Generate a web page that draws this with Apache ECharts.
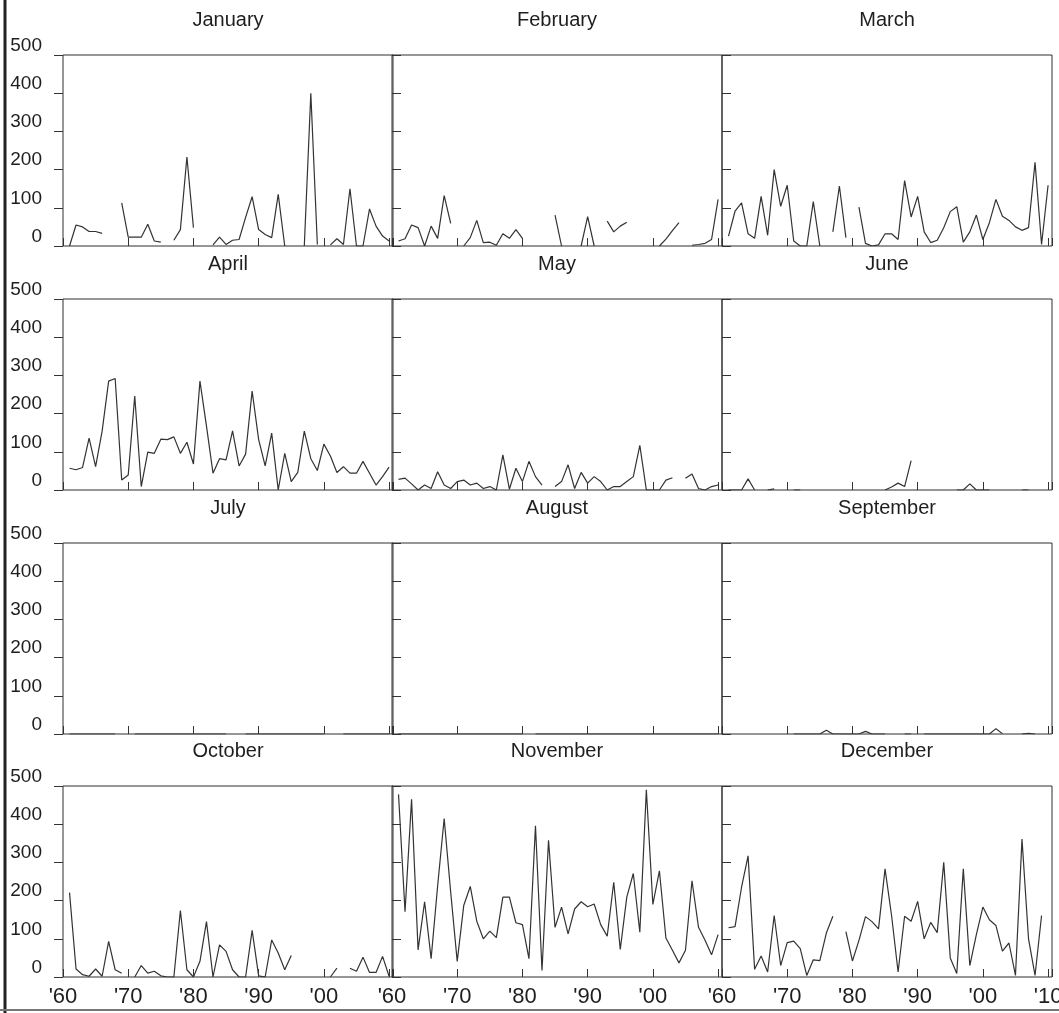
<!DOCTYPE html>
<html>
<head>
<meta charset="utf-8">
<title>Monthly totals 1961-2010</title>
<script src="https://cdn.jsdelivr.net/npm/echarts@6/dist/echarts.min.js"></script>
<style>
  html, body { margin: 0; padding: 0; background: #fff; }
  #chart { width: 1059px; height: 1013px; }
</style>
</head>
<body>
<div id="chart"></div>
<script>
var years = []
for (var y = 1961; y <= 2010; y++) years.push(y)

var months = ['January', 'February', 'March', 'April', 'May', 'June',
	'July', 'August', 'September', 'October', 'November', 'December']

// one value per year 1961..2010, null = no data (gap in the line)
var jan = [0, 55, 50, 38, 38, 33, null, null, 113, 23,
	23, 23, 57, 13, 10, null, 15, 43, 233, 48,
	null, null, 3, 23, 4, 15, 17, 75, 129, 43,
	30, 22, 135, 0, null, null, 0, 400, 4, null,
	3, 19, 4, 150, 0, 0, 97, 52, 26, 13]
var feb = [13, 19, 55, 48, 0, 52, 20, 132, 59, null,
	0, 22, 67, 9, 10, 2, 32, 20, 43, 20,
	null, null, null, null, 81, 0, null, null, 0, 77,
	0, null, 65, 37, 52, 62, null, null, null, null,
	0, 18, 40, 61, null, 2, 4, 7, 17, 122]
var mar = [26, 91, 113, 32, 20, 130, 28, 200, 104, 159,
	13, 0, 0, 116, 0, null, 37, 157, 22, null,
	102, 7, 0, 3, 32, 32, 17, 171, 76, 130,
	37, 9, 15, 48, 90, 103, 10, 37, 81, 17,
	61, 122, 78, 67, 50, 41, 48, 219, 4, 159]
var apr = [57, 53, 59, 136, 61, 154, 285, 292, 26, 39,
	246, 9, 99, 96, 133, 132, 139, 96, 125, 68,
	285, 167, 44, 82, 79, 155, 63, 94, 259, 132,
	63, 149, 0, 96, 22, 46, 154, 82, 51, 120,
	89, 46, 61, 44, 44, 75, 44, 13, 35, 60]
var may = [28, 31, 16, 0, 13, 4, 48, 13, 4, 22,
	26, 13, 18, 4, 9, 0, 92, 2, 57, 22,
	75, 35, 13, null, 9, 22, 66, 4, 46, 18,
	35, 22, 0, 9, 9, 22, 35, 117, 0, 0,
	0, 26, 32, null, 31, 42, 4, 0, 9, 13]
var jun = [0, 0, 0, 29, 0, null, 0, 3, null, null,
	0, 0, null, null, null, null, null, null, null, null,
	null, null, null, null, 0, 8, 18, 9, 77, null,
	null, null, null, null, null, 0, 0, 16, 0, 0,
	0, null, null, null, null, 0, 0, null, null, null]
var jul = [0, 0, 0, 0, 0, 0, 0, 0, null, null,
	0, 0, 0, 0, 0, 0, 0, 0, 0, 0,
	0, 0, 0, 0, 0, null, null, 0, 0, 0,
	0, 0, 0, 0, 0, 0, 0, 0, 0, 0,
	null, null, 0, 0, 0, 0, 0, 0, 0, 0]
var aug = [0, 0, 0, 0, 0, 0, 0, 0, 0, 0,
	0, 0, 0, 0, 0, 0, 0, 0, 0, 0,
	null, 0, 0, 0, 0, 0, 0, 0, 0, 0,
	0, 0, 0, 0, 0, 0, 0, 0, 0, 0,
	0, 0, 0, 0, 0, 0, 0, 0, 0, 0]
var sep = [null, null, null, null, null, null, null, null, null, null,
	0, 0, 0, 0, 0, 10, 0, 0, 0, 0,
	0, 7, 0, 0, 0, null, null, 0, 0, null,
	0, 0, 0, 0, 0, 0, 0, 0, 0, 0,
	0, 14, 1, null, null, 0, 2, 0, null, null]
var oct = [221, 21, 6, 2, 21, 2, 93, 19, 10, null,
	0, 30, 10, 15, 3, 0, 0, 174, 19, 0,
	41, 145, 0, 84, 67, 19, 0, 0, 122, 3,
	0, 97, 63, 19, 56, null, null, null, null, null,
	0, 23, null, 23, 15, 52, 12, 12, 54, 2]
var nov = [478, 171, 465, 71, 197, 48, 239, 415, 222, 41,
	187, 237, 146, 100, 120, 103, 209, 209, 142, 137,
	48, 396, 17, 358, 130, 183, 113, 178, 197, 184,
	191, 137, 107, 248, 72, 209, 271, 117, 490, 190,
	278, 102, 70, 37, 70, 252, 130, 96, 58, 111]
var dec = [129, 132, 235, 317, 20, 55, 13, 161, 30, 90,
	94, 74, 4, 45, 43, 115, 159, null, 119, 42,
	96, 158, 145, 126, 283, 161, 13, 159, 146, 198,
	100, 143, 116, 300, 50, 9, 283, 30, 111, 183,
	150, 135, 68, 89, 4, 361, 100, 4, 161, null]

var monthData = [jan, feb, mar, apr, may, jun, jul, aug, sep, oct, nov, dec]

var colLeft = [63, 392, 722]
var colWidth = 330
var rowTop = [55, 299, 543, 786]
var rowHeight = 191
var font = "'Liberation Sans', Arial, sans-serif"

function xLabel(col) {
	return function (v) {
		if (v % 10 !== 0) return ''
		if (v === 2010 && col < 2) return ''
		return "'" + String(v).slice(2)
	}
}

var grids = [], xAxes = [], yAxes = [], series = [], titles = []

for (var i = 0; i < 12; i++) {
	var row = Math.floor(i / 3)
	var col = i % 3
	grids.push({
		left: colLeft[col], top: rowTop[row], width: colWidth, height: rowHeight,
		outerBoundsMode: 'none', containLabel: false,
		show: true, borderColor: '#2e2e2e', borderWidth: 1, backgroundColor: 'transparent',
	})
	titles.push({
		text: months[i],
		left: colLeft[col] + colWidth / 2,
		top: rowTop[row] - 45,
		textAlign: 'center',
		padding: 0,
		textStyle: { fontFamily: font, fontSize: 20, fontWeight: 'normal', color: '#1e1e1e' },
	})
	xAxes.push({
		gridIndex: i, type: 'value', min: 1960, max: 2010.6, interval: 10,
		axisLine: { show: false },
		axisTick: { show: true, inside: true, length: 8, lineStyle: { color: '#333' } },
		splitLine: { show: false },
		axisLabel: {
			show: row === 3, formatter: xLabel(col), margin: 9,
			fontFamily: font, fontSize: 22, color: '#1e1e1e',
		},
	})
	yAxes.push({
		gridIndex: i, type: 'value', min: 0, max: 500, interval: 100,
		axisLine: { show: false },
		axisTick: { show: true, inside: col > 0, length: 9, lineStyle: { color: '#333' } },
		splitLine: { show: false },
		axisLabel: {
			show: col === 0, margin: 21, verticalAlign: 'bottom',
			fontFamily: font, fontSize: 19, color: '#1e1e1e',
		},
	})
	series.push({
		type: 'line', xAxisIndex: i, yAxisIndex: i,
		showSymbol: false, connectNulls: false, silent: true,
		lineStyle: { color: '#333', width: 1.2 },
		data: years.map(function (yr, k) {
			var v = monthData[i][k]
			return [yr, v === null ? '-' : v]
		}),
	})
}

var chart = echarts.init(document.getElementById('chart'))
chart.setOption({
	animation: false,
	backgroundColor: '#fff',
	title: titles,
	grid: grids,
	xAxis: xAxes,
	yAxis: yAxes,
	series: series,
	graphic: [
		{ type: 'line', shape: { x1: 5, y1: 0, x2: 5, y2: 1013 }, style: { stroke: '#222', lineWidth: 3 } },
		{ type: 'line', shape: { x1: 0, y1: 1010, x2: 1059, y2: 1010 }, style: { stroke: '#777', lineWidth: 2 } },
	],
})
</script>
</body>
</html>
